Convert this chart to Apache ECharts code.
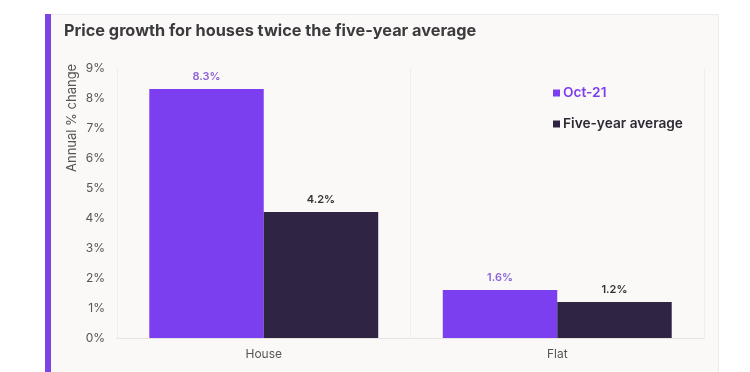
<!DOCTYPE html>
<html><head><meta charset="utf-8">
<script src="https://cdn.jsdelivr.net/npm/echarts@6/dist/echarts.min.js"></script>
<style>html,body{margin:0;padding:0;background:#fff}#c{width:750px;height:372px}</style>
</head><body><div id="c"></div>
<script>
const categories = ['House', 'Flat'];
const oct21 = [8.3, 1.6];
const fiveYearAvg = [4.2, 1.2];
const seriesNames = ['Oct-21', 'Five-year average'];
const yTicks = [0, 1, 2, 3, 4, 5, 6, 7, 8, 9];

const purple = '#7c3ff0';
const dark = '#2f2443';
const font = 'Inter, "Noto Sans", sans-serif';

const chart = echarts.init(document.getElementById('c'));
chart.setOption({
  backgroundColor: '#ffffff',
  animation: false,
  graphic: [
    { type: 'rect', left: 45, top: 14, shape: { width: 673, height: 360 }, style: { fill: '#faf9f7', stroke: '#ecebea', lineWidth: 1 }, z: -10 },
    { type: 'rect', left: 45, top: 14, shape: { width: 6, height: 360 }, style: { fill: '#7b45e6' }, z: -9 },
    { type: 'text', left: 64, top: 23, style: { text: 'Price growth for houses twice the five-year average', font: 'bold 16.3px ' + font, fill: '#3b3a3d' } },
    { type: 'text', x: 66, y: 172, rotation: Math.PI / 2, style: { text: 'Annual % change', font: '13px ' + font, fill: '#555', textAlign: 'left', textVerticalAlign: 'top' } }
  ],
  legend: {
    orient: 'vertical', left: 548, top: 81, itemWidth: 7, itemHeight: 7, itemGap: 17,
    icon: 'rect',
    data: [
      { name: seriesNames[0], textStyle: { color: purple } },
      { name: seriesNames[1], textStyle: { color: '#2e2a35' } }
    ],
    textStyle: { fontFamily: font, fontSize: 13.7, fontWeight: 600, padding: [0, 0, 0, -2] }
  },
  grid: { left: 117, right: 46, top: 68, bottom: 34 },
  xAxis: {
    type: 'category', data: categories,
    axisLine: { lineStyle: { color: '#e6e4e2' } },
    axisTick: { show: false },
    splitLine: { show: true, lineStyle: { color: '#f0eeec' } },
    axisLabel: { color: '#555', fontFamily: font, fontSize: 12, margin: 10 }
  },
  yAxis: {
    type: 'value', min: 0, max: 9, interval: 1,
    axisLine: { show: false }, axisTick: { show: false },
    splitLine: { show: false },
    axisLabel: { color: '#555', fontFamily: font, fontSize: 12, margin: 12,
      formatter: v => yTicks.includes(v) ? v + '%' : '' }
  },
  series: [
    { name: seriesNames[0], type: 'bar', data: oct21, barGap: '0%', barCategoryGap: '22%',
      itemStyle: { color: purple },
      label: { show: true, position: 'top', distance: 7, formatter: p => p.value.toFixed(1) + '%', color: '#8a63d8', fontFamily: font, fontSize: 11, fontWeight: 600 } },
    { name: seriesNames[1], type: 'bar', data: fiveYearAvg,
      itemStyle: { color: dark },
      label: { show: true, position: 'top', distance: 7, formatter: p => p.value.toFixed(1) + '%', color: '#333', fontFamily: font, fontSize: 11, fontWeight: 600 } }
  ]
});
</script></body></html>
